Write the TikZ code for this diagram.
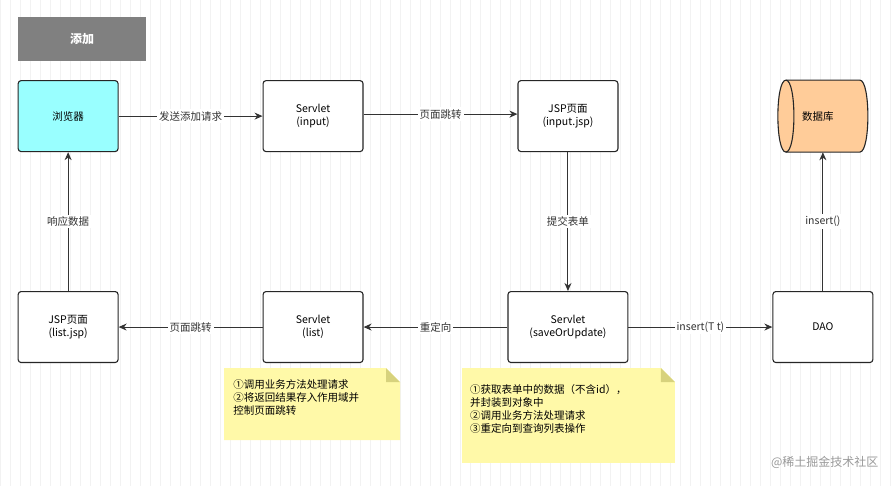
\documentclass[tikz,border=0pt]{standalone}
\usepackage{fontspec}
\setmainfont{Noto Sans CJK SC}
\usetikzlibrary{shapes.geometric,arrows.meta}
\definecolor{cy}{HTML}{99FFFF}
\definecolor{og}{HTML}{FFCC99}
\definecolor{nt}{HTML}{FFF9A8}
\begin{document}
\begin{tikzpicture}[x=1pt,y=-1pt,font=\fontsize{10.5}{13}\selectfont,
 box/.style={draw=black!85,line width=1.1pt,rounded corners=3pt,minimum width=100pt,minimum height=71pt,align=center,fill=white},
 arr/.style={-{Stealth[length=8pt,width=7pt]},line width=1pt,black!80},
 lab/.style={fill=white,inner sep=2pt},
 note/.style={fill=nt,draw=none}]
\fill[white] (0,0) rectangle (896,486);
\draw[black!5,line width=0.3pt] (0,0) grid[step=10] (896,486);
\useasboundingbox (0,0) rectangle (896,486);
\node[fill=black!50,minimum width=128pt,minimum height=44pt,text=white,font=\fontsize{12}{14}\selectfont\bfseries] (t) at (82,39) {添加};
\node[box,fill=cy] (b) at (68,116) {浏览器};
\node[box] (si) at (313,116) {Servlet\\(input)};
\node[box] (ji) at (568,116) {JSP页面\\(input.jsp)};
\filldraw[fill=og,draw=black!85,line width=1.1pt] (786,80) -- (860,80) .. controls (870.7,80) and (870.7,152) .. (860,152) -- (786,152) .. controls (775.3,152) and (775.3,80) .. (786,80) -- cycle;
\draw[black!85,line width=1.1pt] (786,80) .. controls (796.7,80) and (796.7,152) .. (786,152);
\node[minimum width=90pt,minimum height=72pt] (db) at (823,116) {};
\node (dbl) at (818,116) {数据库};
\node[box] (jl) at (68,327) {JSP页面\\(list.jsp)};
\node[box] (sl) at (313,327) {Servlet\\(list)};
\node[box,minimum width=120pt] (ss) at (568,327) {Servlet\\(saveOrUpdate)};
\node[box] (dao) at (823,327) {DAO};
\draw[arr] (b) -- node[lab]{发送添加请求} (si);
\draw[arr] (si.east) ++(0,-2) coordinate (a1) -- (a1 -| ji.west) node[midway,lab]{页面跳转};
\draw[arr] (ji) -- node[lab]{提交表单} (ss);
\draw[arr] (ss) -- node[lab]{重定向} (sl);
\draw[arr] (sl) -- node[lab]{页面跳转} (jl);
\draw[arr] (jl) -- node[lab]{响应数据} (b);
\draw[arr] (ss) -- node[lab]{insert(T t)} (dao);
\draw[arr] (dao) -- node[lab]{insert()} (db);
\fill[note] (224,368) -- (386,368) -- (400,382) -- (400,440) -- (224,440) -- cycle;
\fill[yellow!70!black!60] (386,368) -- (400,382) -- (386,382) -- cycle;
\node[anchor=north west,align=left,inner sep=0pt] (n1) at (233,379) {①调用业务方法处理请求\\②将返回结果存入作用域并\\控制页面跳转};
\fill[note] (462,368) -- (661,368) -- (675,382) -- (675,463) -- (462,463) -- cycle;
\fill[yellow!70!black!60] (661,368) -- (675,382) -- (661,382) -- cycle;
\node[anchor=north west,align=left,inner sep=0pt] (n2) at (470,384) {①获取表单中的数据（不含id），\\并封装到对象中\\②调用业务方法处理请求\\③重定向到查询列表操作};
\node[text=black!40,font=\fontsize{12}{14}\selectfont,anchor=east] (wm) at (882,462) {@稀土掘金技术社区};
\end{tikzpicture}
\end{document}
